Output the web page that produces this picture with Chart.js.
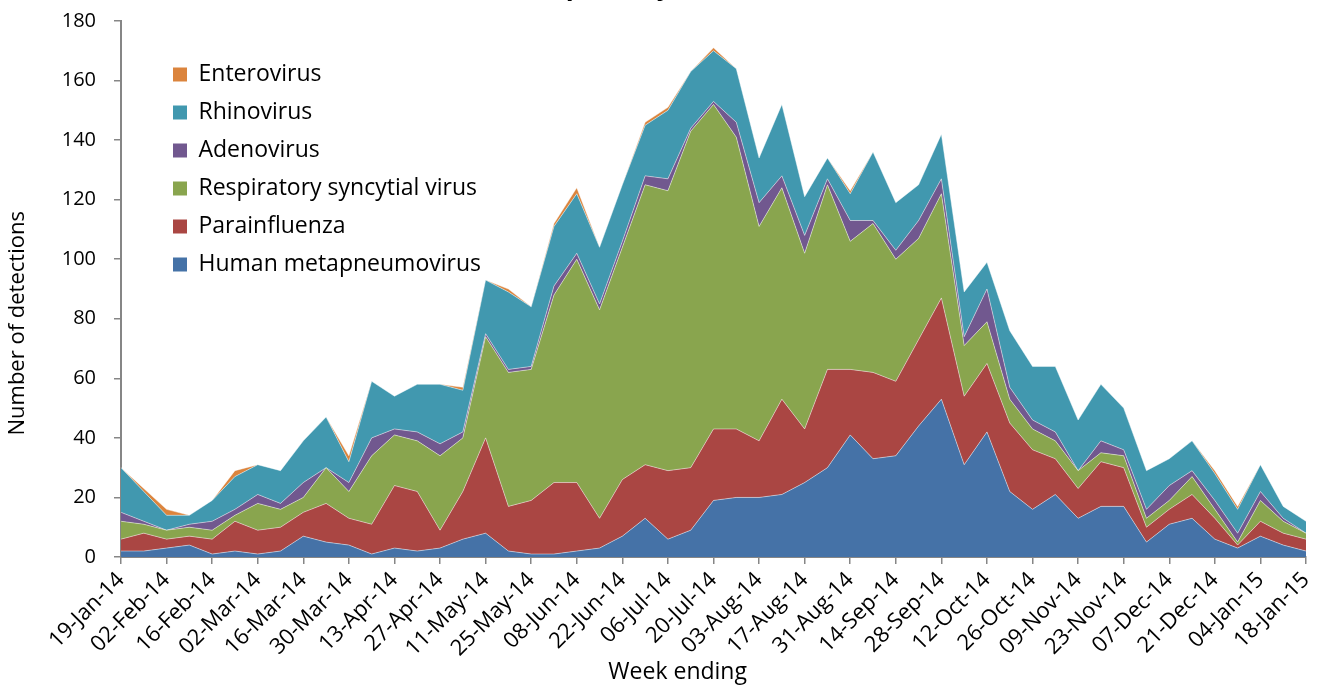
<!DOCTYPE html>
<html>
<head>
<meta charset="utf-8">
<title>Respiratory virus detections</title>
<script src="https://cdn.jsdelivr.net/npm/chart.js@4.4.1/dist/chart.umd.min.js"></script>
<style>
  html, body { margin: 0; padding: 0; background: #fff; overflow: hidden; }
  #chart { display: block; }
</style>
</head>
<body>
<canvas id="chart" width="1322" height="688"></canvas>
<script>
// Week ending dates
const weeks = [
  "19-Jan-14", "26-Jan-14", "02-Feb-14", "09-Feb-14", "16-Feb-14", "23-Feb-14",
  "02-Mar-14", "09-Mar-14", "16-Mar-14", "23-Mar-14", "30-Mar-14", "06-Apr-14",
  "13-Apr-14", "20-Apr-14", "27-Apr-14", "04-May-14", "11-May-14", "18-May-14",
  "25-May-14", "01-Jun-14", "08-Jun-14", "15-Jun-14", "22-Jun-14", "29-Jun-14",
  "06-Jul-14", "13-Jul-14", "20-Jul-14", "27-Jul-14", "03-Aug-14", "10-Aug-14",
  "17-Aug-14", "24-Aug-14", "31-Aug-14", "07-Sep-14", "14-Sep-14", "21-Sep-14",
  "28-Sep-14", "05-Oct-14", "12-Oct-14", "19-Oct-14", "26-Oct-14", "02-Nov-14",
  "09-Nov-14", "16-Nov-14", "23-Nov-14", "30-Nov-14", "07-Dec-14", "14-Dec-14",
  "21-Dec-14", "28-Dec-14", "04-Jan-15", "11-Jan-15", "18-Jan-15"
];

// Detections per week, one array per virus (stacked bottom to top)
const hmpv = [2, 2, 3, 4, 1, 2, 1, 2, 7, 5, 4, 1, 3, 2, 3, 6, 8, 2, 1, 1, 2, 3, 7, 13, 6, 9, 19, 20, 20, 21, 25, 30, 41, 33, 34, 44, 53, 31, 42, 22, 16, 21, 13, 17, 17, 5, 11, 13, 6, 3, 7, 4, 2];
const parainfluenza = [4, 6, 3, 3, 5, 10, 8, 8, 8, 13, 9, 10, 21, 20, 6, 16, 32, 15, 18, 24, 23, 10, 19, 18, 23, 21, 24, 23, 19, 32, 18, 33, 22, 29, 25, 29, 34, 23, 23, 23, 20, 12, 10, 15, 13, 5, 5, 8, 7, 1, 5, 4, 4];
const rsv = [6, 3, 3, 3, 3, 2, 9, 6, 5, 12, 9, 23, 17, 17, 25, 18, 34, 45, 44, 63, 75, 70, 78, 94, 94, 113, 109, 98, 72, 71, 59, 62, 43, 50, 41, 34, 35, 17, 14, 8, 7, 6, 6, 3, 4, 3, 3, 6, 3, 1, 7, 4, 2];
const adenovirus = [3, 1, 0, 1, 3, 2, 3, 2, 5, 0, 3, 6, 2, 3, 4, 2, 1, 1, 1, 3, 2, 2, 2, 3, 4, 1, 1, 5, 8, 4, 6, 2, 7, 1, 3, 6, 5, 3, 11, 4, 3, 3, 0, 4, 2, 3, 5, 2, 3, 3, 3, 1, 0];
const rhinovirus = [15, 10, 5, 3, 7, 11, 10, 11, 14, 17, 7, 19, 11, 16, 20, 14, 18, 26, 20, 20, 20, 19, 19, 17, 23, 19, 17, 18, 15, 24, 13, 7, 9, 23, 16, 12, 15, 15, 9, 19, 18, 22, 17, 19, 14, 13, 9, 10, 9, 8, 9, 4, 4];
const enterovirus = [0, 1, 2, 0, 0, 2, 0, 0, 0, 0, 2, 0, 0, 0, 0, 1, 0, 1, 0, 1, 2, 0, 0, 1, 1, 0, 1, 0, 0, 0, 0, 0, 1, 0, 0, 0, 0, 0, 0, 0, 0, 0, 0, 0, 0, 0, 0, 0, 1, 1, 0, 0, 0];

const seriesNames = ["Human metapneumovirus", "Parainfluenza", "Respiratory syncytial virus", "Adenovirus", "Rhinovirus", "Enterovirus"];
const seriesData = [hmpv, parainfluenza, rsv, adenovirus, rhinovirus, enterovirus];
const seriesColors = ["#4572A7", "#AA4643", "#89A54E", "#71588F", "#4198AF", "#DB843D"];

const FONT = "'Open Sans', 'DejaVu Sans', sans-serif";
const AXIS_GREY = "#868686";

// Legend sits inside the plot, top left
const legendPlacer = {
  id: "legendPlacer",
  afterLayout(chart) {
    chart.legend.left = 158;
    chart.legend.top = 48;
  },
};

const datasets = seriesNames.map((name, k) => ({
  label: name,
  data: seriesData[k],
  backgroundColor: seriesColors[k],
  borderColor: "rgba(255,255,255,0.45)",
  borderWidth: 1,
  fill: k === 0 ? "origin" : "-1",
  pointRadius: 0,
  tension: 0,
}));

const ctx = document.getElementById("chart").getContext("2d");
new Chart(ctx, {
  type: "line",
  data: { labels: weeks, datasets: datasets },
  plugins: [legendPlacer],
  options: {
    responsive: false,
    animation: false,
    layout: { padding: { left: 0, right: 16, top: 0, bottom: 0 } },
    plugins: {
      tooltip: { enabled: false },
      // title is cut off by the top edge, as in the source picture
      title: {
        display: true,
        text: "Non-influenza respiratory virus detections (2014)",
        color: "#000",
        font: { family: FONT, size: 26, weight: "bold" },
        padding: { top: -28, bottom: 17.8 },
      },
      legend: {
        position: "chartArea",
        align: "start",
        reverse: true,
        labels: {
          boxWidth: 14,
          boxHeight: 14,
          padding: 15,
          color: "#000",
          font: { family: FONT, size: 23 },
          generateLabels: (chart) =>
            Chart.defaults.plugins.legend.labels.generateLabels(chart).map((item) => ({ ...item, lineWidth: 0 })),
        },
      },
    },
    scales: {
      x: {
        offset: false,
        grid: { drawOnChartArea: false, drawTicks: true, tickLength: 7, color: AXIS_GREY, lineWidth: 1.5 },
        border: { color: AXIS_GREY, width: 2 },
        ticks: {
          autoSkip: false,
          maxRotation: 45,
          minRotation: 45,
          padding: 3,
          color: "#000",
          font: { family: FONT, size: 22 },
          callback: function (value, index) {
            return index % 2 === 0 ? this.getLabelForValue(value) : null;
          },
        },
        title: {
          display: true,
          text: "Week ending            ",
          color: "#000",
          font: { family: FONT, size: 23 },
          padding: { top: 0, bottom: 2 },
        },
        afterFit: (scale) => {
          scale.height = 131;
          scale.paddingLeft = 0;
          scale.paddingRight = 0;
        },
      },
      y: {
        stacked: true,
        min: 0,
        max: 180,
        grid: { drawOnChartArea: false, drawTicks: true, tickLength: 7, color: AXIS_GREY, lineWidth: 1.5 },
        border: { color: AXIS_GREY, width: 2 },
        ticks: {
          stepSize: 20,
          padding: 18,
          color: "#000",
          font: { family: FONT, size: 20 },
        },
        title: {
          display: true,
          text: "Number of detections            ",
          color: "#000",
          font: { family: FONT, size: 22 },
          padding: { top: 5, bottom: 0 },
        },
        afterFit: (scale) => {
          scale.width = 121;
          scale.paddingTop = 0;
          scale.paddingBottom = 0;
        },
      },
    },
  },
});
</script>
</body>
</html>
